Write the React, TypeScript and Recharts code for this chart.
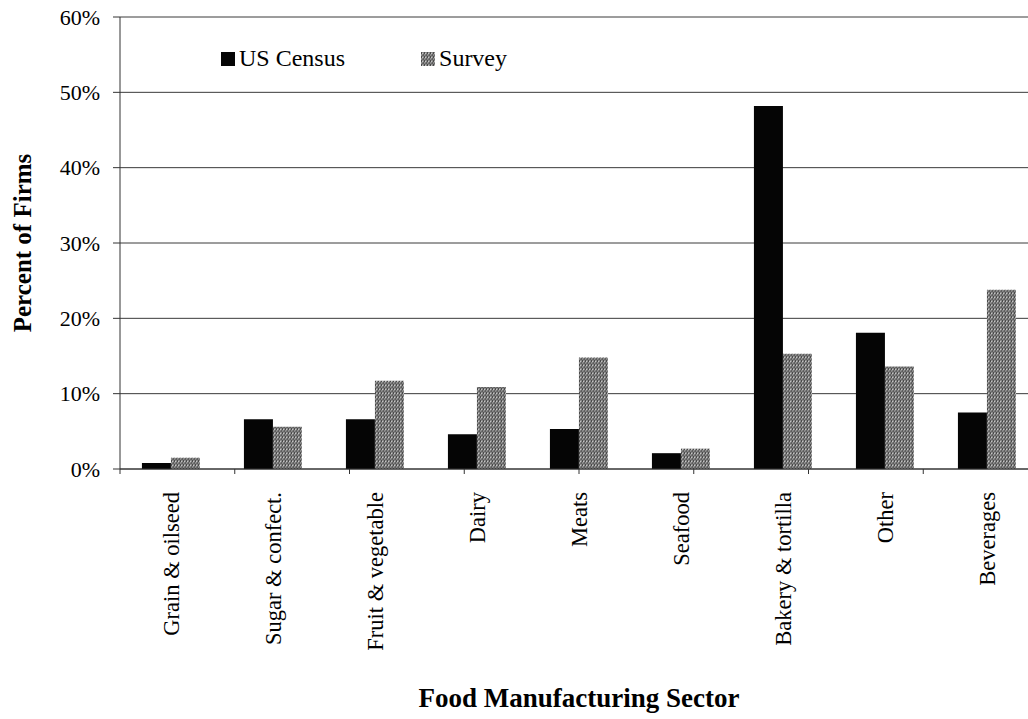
import React from "react";
import { BarChart, Bar, XAxis, YAxis, CartesianGrid, Legend } from "recharts";

const categories = [
  "Grain & oilseed",
  "Sugar & confect.",
  "Fruit & vegetable",
  "Dairy",
  "Meats",
  "Seafood",
  "Bakery & tortilla",
  "Other",
  "Beverages",
];
const censusValues = [0.8, 6.6, 6.6, 4.6, 5.3, 2.1, 48.2, 18.1, 7.5];
const surveyValues = [1.5, 5.6, 11.7, 10.9, 14.8, 2.7, 15.3, 13.6, 23.8];
const yTicks = [0, 10, 20, 30, 40, 50, 60];

const data = categories.map((name, i) => ({
  name,
  census: censusValues[i],
  survey: surveyValues[i],
}));
const boundaryTicks = Array.from({ length: categories.length + 1 }, (_, i) => i);

const FONT = "'Liberation Serif', 'Times New Roman', serif";

const CatTick = (props: any) => {
  const { x, y, payload } = props;
  return (
    <text
      x={x}
      y={y}
      transform={`rotate(-90, ${x}, ${y})`}
      textAnchor="end"
      dy="0.35em"
      fontFamily={FONT}
      fontSize={22.5}
      fill="#000"
    >
      {payload.value}
    </text>
  );
};

const LegendContent = (props: any) => {
  const { payload } = props;
  return (
    <div style={{ display: "flex", alignItems: "center", fontFamily: FONT, fontSize: 24, color: "#000" }}>
      {(payload || []).map((entry: any, i: number) => (
        <div
          key={entry.value}
          style={{ display: "flex", alignItems: "center", marginRight: i === 0 ? 76 : 0 }}
        >
          <svg width={14} height={14} style={{ marginRight: 4 }}>
            <rect x={0} y={0} width={14} height={14} fill={entry.color} />
          </svg>
          <span>{entry.value}</span>
        </div>
      ))}
    </div>
  );
};

export default function App() {
  return (
    <div
      style={{
        position: "fixed",
        left: 0,
        top: 0,
        width: 1028,
        height: 719,
        overflow: "hidden",
        background: "#fff",
      }}
    >
      <svg width={0} height={0} style={{ position: "absolute" }}>
        <defs>
          <pattern id="surveyPat" width={3} height={4} patternUnits="userSpaceOnUse">
            <rect x={0} y={0} width={3} height={4} fill="#8a8a8a" />
            <rect x={0} y={0} width={1} height={2} fill="#4a4a4a" />
            <rect x={2} y={2} width={1} height={2} fill="#5e5e5e" />
            <rect x={1} y={1} width={1} height={1} fill="#c4c4c4" />
            <rect x={1} y={3} width={1} height={1} fill="#6a6a6a" />
          </pattern>
        </defs>
      </svg>
      <BarChart
        width={1046}
        height={719}
        data={data}
        margin={{ top: 17, right: 8, left: 0, bottom: 0 }}
        barCategoryGap="21.5%"
        barGap={0}
      >
        <CartesianGrid vertical={false} stroke="#3a3a3a" strokeWidth={1} xAxisId="b_cat" />
        <XAxis
          xAxisId="a_grid"
          type="number"
          domain={[0, categories.length]}
          ticks={boundaryTicks}
          interval={0}
          allowDataOverflow
          height={1}
          tickSize={5}
          tickFormatter={() => ""}
          axisLine={{ stroke: "#333" }}
          tickLine={{ stroke: "#333" }}
        />
        <XAxis
          xAxisId="b_cat"
          dataKey="name"
          height={249}
          interval={0}
          axisLine={false}
          tickLine={false}
          tickSize={0}
          tickMargin={22}
          tick={<CatTick />}
          label={{
            content: (p: any) => {
              const vb = p.viewBox;
              return (
                <text
                  x={vb.x + vb.width / 2}
                  y={698}
                  dy="0.35em"
                  textAnchor="middle"
                  fontFamily={FONT}
                  fontWeight="bold"
                  fontSize={27}
                  fill="#000"
                >
                  Food Manufacturing Sector
                </text>
              );
            },
          }}
        />
        <YAxis
          width={120}
          domain={[0, 60]}
          ticks={yTicks}
          interval={0}
          tickFormatter={(v: number) => `${v}%`}
          tick={{ fontFamily: FONT, fontSize: 22, fill: "#000" }}
          tickSize={7}
          tickMargin={13}
          axisLine={{ stroke: "#333" }}
          tickLine={{ stroke: "#333" }}
          label={{
            content: (p: any) => {
              const vb = p.viewBox;
              const cx = 22;
              const cy = vb.y + vb.height / 2;
              return (
                <text
                  x={cx}
                  y={cy}
                  dy="0.35em"
                  transform={`rotate(-90, ${cx}, ${cy})`}
                  textAnchor="middle"
                  fontFamily={FONT}
                  fontWeight="bold"
                  fontSize={25}
                  fill="#000"
                >
                  Percent of Firms
                </text>
              );
            },
          }}
        />
        <Legend
          layout="horizontal"
          verticalAlign="middle"
          align="center"
          itemSorter="dataKey"
          wrapperStyle={{ top: 45, left: 221, width: "auto" }}
          content={<LegendContent />}
        />
        <Bar
          xAxisId="b_cat"
          dataKey="census"
          name="US Census"
          fill="#050505"
          isAnimationActive={false}
        />
        <Bar
          xAxisId="b_cat"
          dataKey="survey"
          name="Survey"
          fill="url(#surveyPat)"
          isAnimationActive={false}
        />
      </BarChart>
    </div>
  );
}
